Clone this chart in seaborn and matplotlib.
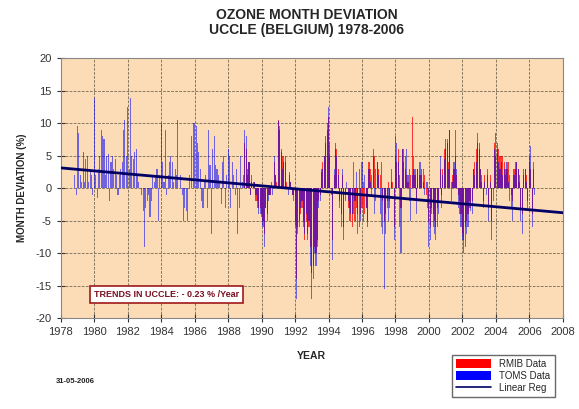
import numpy as np
import pandas as pd
import matplotlib
matplotlib.use("Agg")
import matplotlib.pyplot as plt
import seaborn as sns
from matplotlib.patches import Patch
from matplotlib.lines import Line2D

# monthly ozone deviations (%), TOMS satellite data from Nov 1978
toms_start = 1978 + 10 / 12
toms_values = [
    2, -1,
    9.5, 8.5, 2, 1, 5.5, 1, 4.5, 5, 1, 3, 2, -1,            # 1979
    13.8, 2, -1.5, 3, 5, 9, 8, 7.5, 2, 5, 5.3, -2,          # 1980
    4, 5, 3, 4.5, 2, -1, 2, 3, 4, 9, 10.5, 5,               # 1981
    12.5, 3, 13.8, 5, 4.5, 5.5, 6, 2, 1, 0, -1, -3.5,       # 1982
    -9, -3, -2, -1, -4.5, -2, 2, 1, 2, 3, -5, 2,            # 1983
    10, 4, 1, 9, -1, 2, 4, 5, 4, 1, 3, 2,                   # 1984
    10.5, 0, 2, -1, -5, -3, -3.5, -5, 2, 0, 8, 10,          # 1985
    10, 9.5, 7, 5.5, 3, -2, -3, 1, 2, -3, 9, 3.5,           # 1986
    -7, 6, 8, 3.5, 3, 2, 1, -2.5, 4, 5, -3, 2,              # 1987
    6, 5, -3, 4, 2, -1, 3, -7, -3, 5, 1, 2,                 # 1988
    9, 8, 2, 4, -1, 1, 0.5, 1, -1, -3, -4, -4,              # 1989
    -4.5, -6, -9, -3, -5, -2, -1, 0, -1, 5, 2, 0,           # 1990
    10.3, 9.5, 5.5, 3, 5, 4, 0, -1, 2.5, 1, -1, -2,         # 1991
    -6, -17, -7, -5, -3, -2, -6, -7, -4, -8, -5, -12,       # 1992
    -17, -14, -10, -12, -9, -3, -2, 2.5, 3, 5, 7, 10,       # 1993
    12.5, 5, -1, -11, 3, 6, 5, 2, -3, -6, 3, -8,            # 1994
    -1, 1, -2, -3, -4, -4, 4, -2, 2.5, -7, 3, -5,           # 1995
    4, 1, 2, -3, -5, 3, 1, -1, 5, -4, -2, 4,                # 1996
    2, -4, -6, -7, -15.5, -7, -3, -5, -2, 1, 0, -8,         # 1997
    5, 7, 4, -6, -10, 6, 4, 3, 6, 2, -2, -5,                # 1998
    2, 5, 3, -4, 3, 2, 4, 2, 3, -1, 1, -3,                  # 1999
    -9, -8, -4, -6, -7, -8, -6, -4, 5, -3, 2, 4.5,          # 2000
    6, 7.5, 3, 9, -2, 1, 4, 9, 3, -3, -4, -6,               # 2001
    -8, -10, -9, -7, -6, -3, -3.5, -4, 3, 2, 4, 7,          # 2002
    6, 3, 1, -3, 1, -1, 2, -5, 1, -8, -2, 6,                # 2003
    5, 6, 4, 3, 5, 2, 3, 2, 4, 1, -2, -3,                   # 2004
    -5, 2, 3, 4, 3, 1, -5, -7, 2, 3, 1, -3,                 # 2005
    5, 6.5, -6, 4, -1,                                      # 2006
]

# RMIB ground based data from Jan 1989
rmib_start = 1989.0
rmib_values = [
    7, 6, 3, 4, -1, 2, 1, 1, -2, -2, -3, -3,                # 1989
    -4, -5, -7, -3, -4, -1, -1, 1, 0, 4, 2, 1,              # 1990
    10.5, 9, 6, 5, 4, 5, 1, 0, 2, 1, -1, -1,                # 1991
    -5, -14, -6, -6, -4, -3, -5, -8, -5, -7, -6, -9,        # 1992
    -13, -12, -9, -10, -8, -2, -1, 3, 4, 5, 8, 9,           # 1993
    11, 7, 0, -8, 2, 7, 6, 3, -2, -4, 2, -6,                # 1994
    -2, 0, -3, -5, -5, -6, -4, -5, -3, -4, -6, -4,          # 1995
    -3, -5, -4, -3, -6, 4, 3, 2, 6, 5, 3, 4,                # 1996
    3, 2, 4, -2, -5, -4, -2, 1, -3, 3, 1, -6,               # 1997
    8, 4, 6, 2, -3, 6, 6, 5, 2, 1, 3, 2,                    # 1998
    11, 3, 2, -2, 3, 4, 2, 3, 1, 2, -1, 1,                  # 1999
    -5, -6, -3, -4, -5, -6, -3, -2, 3, -1, 3, 6,            # 2000
    7.5, 7, 4, 9, 1, 2, 3, 5, 2, -1, -2, -4,                # 2001
    -7, -8, -6, -5, -4, -2, -3, -2, 3, 4, 6, 8.5,           # 2002
    7, 3, 2, -2, 2, 0, 3, -3, 2, -5, 0, 7,                  # 2003
    8.5, 7, 6, 5, 4, 5, 4, 3, 3, 4, 2, -1,                  # 2004
    -2, 3, 4, 4, 3, 2, -3, -4, 3, 3, 2, -2,                 # 2005
    4, 3, -4, 3, 0,                                         # 2006
]

# linear regression: -0.23 %/year
trend_years = [1978, 2008]
trend_values = [3.1, -3.8]

x_ticks = list(range(1978, 2009, 2))
y_ticks = list(range(-20, 21, 5))

toms = pd.DataFrame({"year": toms_start + np.arange(len(toms_values)) / 12,
                     "dev": toms_values})
rmib = pd.DataFrame({"year": rmib_start + np.arange(len(rmib_values)) / 12,
                     "dev": rmib_values})
trend = pd.DataFrame({"year": trend_years, "dev": trend_values})

sns.set_theme(style="ticks")
plt.rcParams["font.family"] = ["Liberation Sans", "DejaVu Sans"]
plt.rcParams["axes.unicode_minus"] = False

fig = plt.figure(figsize=(5.79, 4.09), dpi=100)
ax = fig.add_axes([0.105, 0.2225, 0.867, 0.6355])
ax.set_facecolor("#fcdcb6")

# thin monthly spikes
ax.bar(rmib["year"], rmib["dev"], width=0.065, color="#ff0000",
       alpha=0.75, linewidth=0, zorder=2)
ax.bar(toms["year"], toms["dev"], width=0.065, color="#0000ff",
       alpha=0.55, linewidth=0, zorder=3)
sns.lineplot(data=trend, x="year", y="dev", ax=ax, color="#000066",
             linewidth=2, zorder=4)

ax.set_xlim(1978, 2008)
ax.set_ylim(-20, 20)
ax.set_xticks(x_ticks)
ax.set_yticks(y_ticks)
ax.tick_params(labelsize=8, direction="inout", length=6, width=0.8,
               colors="#333333")
ax.grid(True, color="#7e7058", linestyle=(0, (3, 1.5)), linewidth=0.65)
ax.set_axisbelow(True)
for sp in ax.spines.values():
    sp.set_color("#888888")
    sp.set_linewidth(0.8)

ax.set_xlabel("YEAR", fontsize=7.5, fontweight="bold", labelpad=10)
ax.set_ylabel("MONTH DEVIATION (%)", fontsize=7, fontweight="bold",
              labelpad=6)

fig.text(0.53, 0.98, "OZONE MONTH DEVIATION\nUCCLE (BELGIUM) 1978-2006",
         ha="center", va="top", fontsize=10, fontweight="bold",
         linespacing=1.1)

ax.text(0.21, 0.0917, "TRENDS IN UCCLE: - 0.23 % /Year", transform=ax.transAxes,
        ha="center", va="center", fontsize=6.5, fontweight="bold",
        color="#7a1020",
        bbox=dict(boxstyle="square,pad=0.45", facecolor="white",
                  edgecolor="#a01818", linewidth=1.2), zorder=5)

fig.text(0.13, 0.068, "31-05-2006", ha="center", va="center",
         fontsize=5.5, fontweight="bold", color="#222222")

handles = [Patch(facecolor="#ff0000", edgecolor="none", label="RMIB Data"),
           Patch(facecolor="#0000ff", edgecolor="none", label="TOMS Data"),
           Line2D([0], [0], color="#000066", lw=1.2, label="Linear Reg")]
fig.legend(handles=handles, loc="upper left", bbox_to_anchor=(0.772, 0.145),
           fontsize=7, frameon=True, fancybox=False, edgecolor="#444444",
           handlelength=3.6, handleheight=1.0, borderpad=0.45,
           labelspacing=0.2)

fig.savefig("out.png", dpi=100)
